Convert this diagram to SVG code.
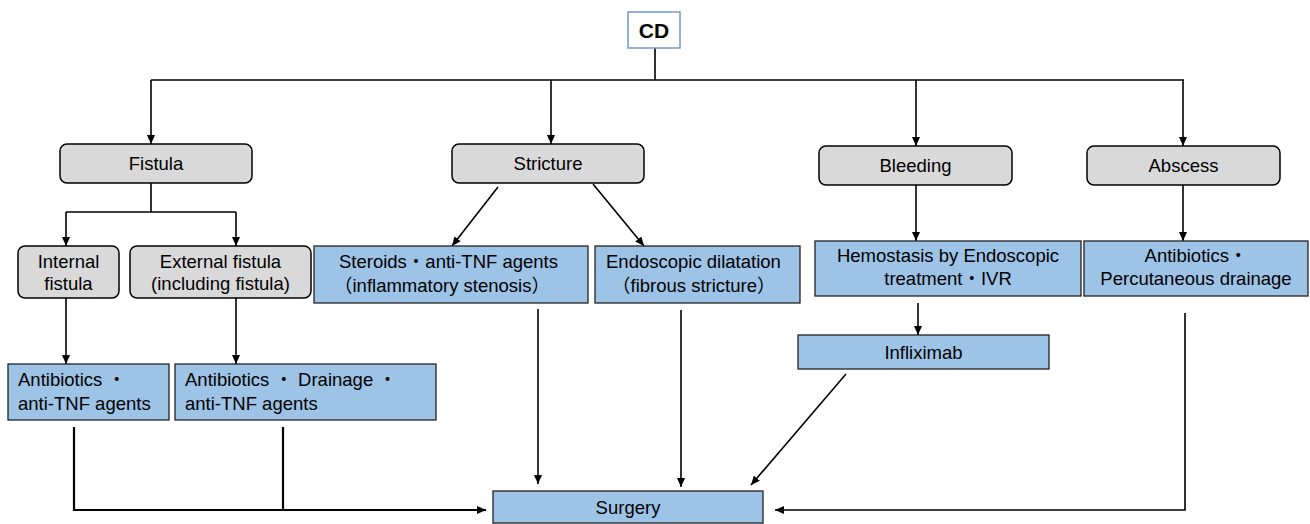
<svg xmlns="http://www.w3.org/2000/svg" width="1310" height="524" viewBox="0 0 1310 524">
<defs>
<style>
text{font-family:"Liberation Sans","Noto Sans CJK JP",Arial,sans-serif;font-size:18.5px;fill:#000}
.c{text-anchor:middle}
.g{fill:#d9d9d9;stroke:#000;stroke-width:1.5}
.b{fill:#9dc3e6;stroke:#222;stroke-width:1.3}
.ln{fill:none;stroke:#000;stroke-width:1.6}
.thick{stroke-width:2.2}
.ar{marker-end:url(#ah)}
</style>
<marker id="ah" markerUnits="userSpaceOnUse" markerWidth="10" markerHeight="8" refX="9" refY="4" orient="auto">
<path d="M0,0 L9,4 L0,8 z" fill="#000"/>
</marker>
</defs>
<rect width="1310" height="524" fill="#fff"/>

<g id="connectors">
<path class="ln" d="M655,48 V80 M151,80 H1184"/>
<path class="ln ar" d="M151,80 V144"/>
<path class="ln ar" d="M551,80 V144"/>
<path class="ln ar" d="M916,80 V146"/>
<path class="ln ar" d="M1183,80 V146"/>
<path class="ln" d="M151,183 V212 M66,212 H236"/>
<path class="ln ar" d="M66,212 V246"/>
<path class="ln ar" d="M236,212 V246"/>
<path class="ln ar" d="M66,298 V364"/>
<path class="ln ar" d="M236,298 V364"/>
<path class="ln ar" d="M498,187 L452,246"/>
<path class="ln ar" d="M593,184 L644,246"/>
<path class="ln ar" d="M916,185 V241"/>
<path class="ln ar" d="M1183,185 V241"/>
<path class="ln ar" d="M918,303 V335"/>
<path class="ln thick ar" d="M74,427 V510 H486"/>
<path class="ln thick" d="M283,427 V510"/>
<path class="ln ar" d="M538,309 V484"/>
<path class="ln ar" d="M681,310 V487"/>
<path class="ln ar" d="M846,374 L751,485"/>
<path class="ln ar" d="M1185,313 V510 H775"/>
</g>

<g id="cd">
<rect x="628" y="12" width="52" height="36" fill="#fff" stroke="#7096d8" stroke-width="1.5"/>
<text x="654" y="38" class="c" style="font-weight:bold;font-size:21px">CD</text>
</g>

<g id="fistula">
<rect class="g" x="60" y="144" width="192" height="39" rx="7"/>
<text x="156" y="170" class="c">Fistula</text>
</g>
<g id="stricture">
<rect class="g" x="452" y="144" width="192" height="39" rx="7"/>
<text x="548" y="170" class="c">Stricture</text>
</g>
<g id="bleeding">
<rect class="g" x="819" y="146" width="193" height="39" rx="7"/>
<text x="915.5" y="172" class="c">Bleeding</text>
</g>
<g id="abscess">
<rect class="g" x="1087" y="146" width="193" height="39" rx="7"/>
<text x="1183.5" y="172" class="c">Abscess</text>
</g>

<g id="internal">
<rect class="g" x="18" y="246" width="101" height="52" rx="7"/>
<text x="68.5" y="268" class="c">Internal</text>
<text x="68.5" y="290" class="c">fistula</text>
</g>
<g id="external">
<rect class="g" x="130" y="246" width="181" height="52" rx="7"/>
<text x="220.5" y="268" class="c">External fistula</text>
<text x="220.5" y="290" class="c">(including fistula)</text>
</g>

<g id="steroids">
<rect class="b" x="314" y="246" width="274" height="57"/>
<text x="339" y="268">Steroids・anti-TNF agents</text>
<text x="334" y="292">（inflammatory stenosis）</text>
</g>
<g id="dilatation">
<rect class="b" x="595" y="246" width="205" height="57"/>
<text x="606" y="268">Endoscopic dilatation</text>
<text x="612" y="292">（fibrous stricture）</text>
</g>
<g id="hemostasis">
<rect class="b" x="815" y="241" width="266" height="55"/>
<text x="948" y="262" class="c">Hemostasis by Endoscopic</text>
<text x="948" y="285" class="c">treatment・IVR</text>
</g>
<g id="drainage">
<rect class="b" x="1084" y="241" width="224" height="55"/>
<text x="1196" y="262" class="c">Antibiotics・</text>
<text x="1196" y="285" class="c">Percutaneous drainage</text>
</g>

<g id="infliximab">
<rect class="b" x="798" y="335" width="251" height="34"/>
<text x="923.5" y="358.5" class="c">Infliximab</text>
</g>

<g id="antibiotics1">
<rect class="b" x="8" y="364" width="161" height="56"/>
<text x="18" y="386">Antibiotics ・</text>
<text x="18" y="410">anti-TNF agents</text>
</g>
<g id="antibiotics2">
<rect class="b" x="175" y="364" width="261" height="56"/>
<text x="185" y="386">Antibiotics ・ Drainage ・</text>
<text x="185" y="410">anti-TNF agents</text>
</g>

<g id="surgery">
<rect class="b" x="493" y="491" width="270" height="32"/>
<text x="628" y="514" class="c">Surgery</text>
</g>
</svg>
